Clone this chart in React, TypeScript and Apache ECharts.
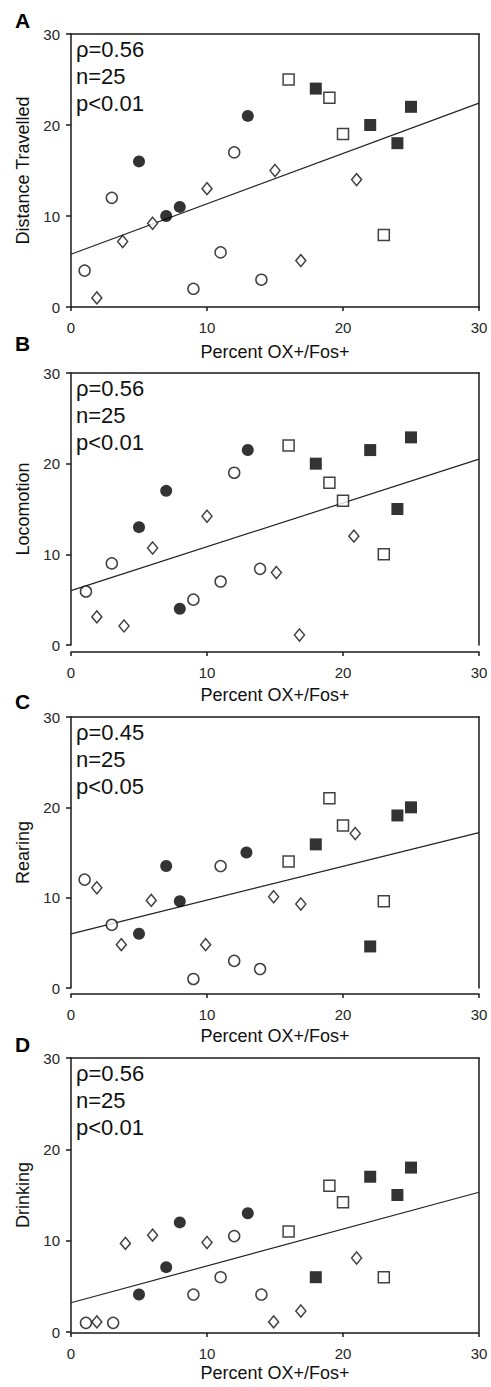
import React, { useEffect, useRef } from "react";
import * as echarts from "echarts";

const panelLabels = ["A", "B", "C", "D"];
const yTitles = ["Distance Travelled", "Locomotion", "Rearing", "Drinking"];
const xTitle = "Percent OX+/Fos+";
const statTexts = [
  ["ρ=0.56", "n=25", "p<0.01"],
  ["ρ=0.56", "n=25", "p<0.01"],
  ["ρ=0.45", "n=25", "p<0.05"],
  ["ρ=0.56", "n=25", "p<0.01"],
];
const axisMin = 0;
const axisMax = 30;
const axisStep = 10;

// Panel A – Distance Travelled
const aFilledSquares = [[18, 24], [22, 20], [24, 18], [25, 22]];
const aOpenSquares = [[16, 25], [19, 23], [20, 19], [23, 7.9]];
const aFilledCircles = [[5, 16], [7, 10], [8, 11], [13, 21]];
const aOpenCircles = [[1, 4], [3, 12], [9, 2], [11, 6], [12, 17], [14, 3]];
const aOpenDiamonds = [[1.9, 1], [3.8, 7.2], [6, 9.2], [10, 13], [15, 15], [16.9, 5.1], [21, 14]];
const aTrend = [[0, 5.8], [30, 22.4]];

// Panel B – Locomotion
const bFilledSquares = [[18, 20], [22, 21.5], [24, 15], [25, 22.9]];
const bOpenSquares = [[16, 22], [19, 17.9], [20, 15.9], [23, 10]];
const bFilledCircles = [[5, 13], [7, 17], [8, 4], [13, 21.5]];
const bOpenCircles = [[1.1, 5.9], [3, 9], [9, 5], [11, 7], [12, 19], [13.9, 8.4]];
const bOpenDiamonds = [[1.9, 3.1], [3.9, 2.1], [6, 10.7], [10, 14.2], [15.1, 8], [16.8, 1.1], [20.8, 12]];
const bTrend = [[0, 6], [30, 20.5]];

// Panel C – Rearing
const cFilledSquares = [[18, 15.9], [22, 4.6], [24, 19.1], [25, 20]];
const cOpenSquares = [[16, 14], [19, 21], [20, 18], [23, 9.6]];
const cFilledCircles = [[5, 6], [7, 13.5], [8, 9.6], [12.9, 15]];
const cOpenCircles = [[1, 12], [3, 7], [9, 1], [11, 13.5], [12, 3], [13.9, 2.1]];
const cOpenDiamonds = [[1.9, 11.1], [3.7, 4.8], [5.9, 9.7], [9.9, 4.8], [14.9, 10.1], [16.9, 9.3], [20.9, 17.1]];
const cTrend = [[0, 6], [30, 17.2]];

// Panel D – Drinking
const dFilledSquares = [[18, 6], [22, 17], [24, 15], [25, 18]];
const dOpenSquares = [[16, 11], [19, 16], [20, 14.2], [23, 6]];
const dFilledCircles = [[5, 4.1], [7, 7.1], [8, 12], [13, 13]];
const dOpenCircles = [[1.1, 1], [3.1, 1], [9, 4.1], [11, 6], [12, 10.5], [14, 4.1]];
const dOpenDiamonds = [[1.9, 1.1], [4, 9.7], [6, 10.6], [10, 9.8], [14.9, 1.1], [16.9, 2.3], [21, 8.1]];
const dTrend = [[0, 3.2], [30, 15.3]];

const panels = [
  { fs: aFilledSquares, os: aOpenSquares, fc: aFilledCircles, oc: aOpenCircles, od: aOpenDiamonds, trend: aTrend },
  { fs: bFilledSquares, os: bOpenSquares, fc: bFilledCircles, oc: bOpenCircles, od: bOpenDiamonds, trend: bTrend },
  { fs: cFilledSquares, os: cOpenSquares, fc: cFilledCircles, oc: cOpenCircles, od: cOpenDiamonds, trend: cTrend },
  { fs: dFilledSquares, os: dOpenSquares, fc: dFilledCircles, oc: dOpenCircles, od: dOpenDiamonds, trend: dTrend },
];

// layout (pixels)
const gridLeft = 71;
const gridWidth = 408;
const gridTops = [34, 373, 717, 1058];
const gridHeights = [273, 272, 271, 274];
const xOffsets = [0, 7, 6, 1];
const xNameGaps = [36, 34, 33, 31];
const labelCenters = [20.5, 343, 701, 1044.5];

const FONT = "'Liberation Sans', Arial, sans-serif";
const LINE = "#1a1a1a";
const LABEL = "#262626";

export default function App() {
  const ref = useRef<HTMLDivElement>(null);

  useEffect(() => {
    if (!ref.current) return;
    const chart = echarts.init(ref.current, undefined, { renderer: "svg" });

    const grid: any[] = [];
    const xAxis: any[] = [];
    const yAxis: any[] = [];
    const series: any[] = [];
    const graphic: any[] = [];

    panels.forEach((p, i) => {
      grid.push({ left: gridLeft, top: gridTops[i], width: gridWidth, height: gridHeights[i], containLabel: false });
      // bottom x axis
      xAxis.push({
        type: "value",
        gridIndex: i,
        min: axisMin,
        max: axisMax,
        interval: axisStep,
        position: "bottom",
        offset: xOffsets[i],
        name: xTitle,
        nameLocation: "middle",
        nameGap: xNameGaps[i],
        nameTextStyle: { fontFamily: FONT, fontSize: 18, color: "#111" },
        axisLine: { show: true, onZero: false, lineStyle: { color: LINE, width: 1.5 } },
        axisTick: { show: true, inside: false, length: 4, lineStyle: { color: LINE, width: 1.5 } },
        axisLabel: { show: true, margin: 13, fontFamily: FONT, fontSize: 15, color: LABEL },
        splitLine: { show: false },
      });
      // top frame line
      xAxis.push({
        type: "value",
        gridIndex: i,
        min: axisMin,
        max: axisMax,
        position: "top",
        axisLine: { show: true, onZero: false, lineStyle: { color: LINE, width: 1.5 } },
        axisTick: { show: false },
        axisLabel: { show: false },
        splitLine: { show: false },
      });
      // left y axis
      yAxis.push({
        type: "value",
        gridIndex: i,
        min: axisMin,
        max: axisMax,
        interval: axisStep,
        position: "left",
        name: yTitles[i],
        nameLocation: "middle",
        nameGap: 36,
        nameRotate: 90,
        nameTextStyle: { fontFamily: FONT, fontSize: 18, color: "#111" },
        axisLine: { show: true, onZero: false, lineStyle: { color: LINE, width: 1.5 } },
        axisTick: { show: true, inside: false, length: 5, lineStyle: { color: LINE, width: 1.5 } },
        axisLabel: { show: true, margin: 11, fontFamily: FONT, fontSize: 15, color: LABEL },
        splitLine: { show: false },
      });
      // right frame line
      yAxis.push({
        type: "value",
        gridIndex: i,
        min: axisMin,
        max: axisMax,
        position: "right",
        axisLine: { show: true, onZero: false, lineStyle: { color: LINE, width: 1.5 } },
        axisTick: { show: false },
        axisLabel: { show: false },
        splitLine: { show: false },
      });

      const xi = i * 2;
      const yi = i * 2;

      series.push({
        type: "line",
        xAxisIndex: xi,
        yAxisIndex: yi,
        data: p.trend,
        showSymbol: false,
        symbol: "none",
        lineStyle: { color: "#222", width: 1.2 },
        z: 1,
        silent: true,
      });

      const openStyle = { color: "#ffffff", borderColor: "#111", borderWidth: 1.5 };
      const filledStyle = { color: "#000000", borderColor: "#000000", borderWidth: 0 };

      series.push({
        type: "scatter", xAxisIndex: xi, yAxisIndex: yi, data: p.od,
        symbol: "diamond", symbolSize: [10, 12], itemStyle: openStyle, z: 3,
      });
      series.push({
        type: "scatter", xAxisIndex: xi, yAxisIndex: yi, data: p.oc,
        symbol: "circle", symbolSize: 11, itemStyle: openStyle, z: 3,
      });
      series.push({
        type: "scatter", xAxisIndex: xi, yAxisIndex: yi, data: p.os,
        symbol: "rect", symbolSize: 11, itemStyle: openStyle, z: 3,
      });
      series.push({
        type: "scatter", xAxisIndex: xi, yAxisIndex: yi, data: p.fc,
        symbol: "circle", symbolSize: 12, itemStyle: filledStyle, z: 4,
      });
      series.push({
        type: "scatter", xAxisIndex: xi, yAxisIndex: yi, data: p.fs,
        symbol: "rect", symbolSize: 12, itemStyle: filledStyle, z: 4,
      });

      graphic.push({
        type: "text",
        x: 15,
        y: labelCenters[i],
        style: {
          text: panelLabels[i],
          fontFamily: FONT,
          fontSize: 21,
          fontWeight: "bold",
          fill: "#000",
          verticalAlign: "middle",
          align: "left",
        },
      });
      graphic.push({
        type: "text",
        x: 76,
        y: gridTops[i] + 1.5,
        style: {
          text: statTexts[i].join("\n"),
          fontFamily: FONT,
          fontSize: 22,
          lineHeight: 27,
          fill: "#111",
          verticalAlign: "top",
          align: "left",
        },
      });
    });

    chart.setOption({
      animation: false,
      backgroundColor: "#ffffff",
      grid,
      xAxis,
      yAxis,
      series,
      graphic,
    });

    return () => chart.dispose();
  }, []);

  return (
    <div
      ref={ref}
      style={{ position: "absolute", left: 0, top: 0, width: 491, height: 1387, background: "#fff" }}
    />
  );
}
